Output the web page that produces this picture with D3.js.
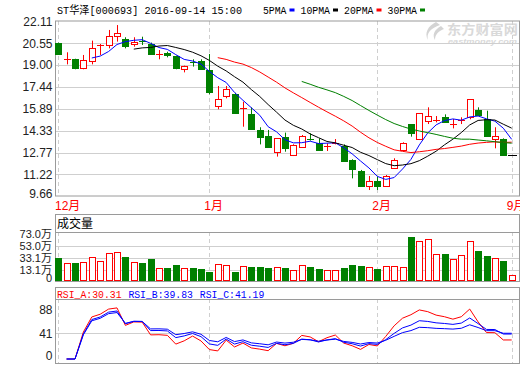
<!DOCTYPE html>
<html><head><meta charset="utf-8">
<script src="https://cdn.jsdelivr.net/npm/d3@7"></script>
<style>body{margin:0;background:#fff}svg{display:block}</style>
</head><body><svg id="c" width="520" height="365"></svg>
<script>
// ---------------- data ----------------
const title = "ST华泽[000693] 2016-09-14 15:00";
const maNames = ["5PMA", "10PMA", "20PMA", "30PMA"];
const maPeriods = [5, 10, 20, 30];
const monthLabels = ["12月", "1月", "2月", "9月"];
const monthStartIdx = [0, 18, 38, 54];
const priceTicks = [22.11, 20.55, 19.00, 17.44, 15.89, 14.33, 12.77, 11.22, 9.66];
const volTicks = [73.0, 53.0, 33.1, 13.1, 0];
const volTickLabels = ["73.0万", "53.0万", "33.1万", "13.1万", "0"];
const rsiTicks = [88, 41, 0];
const rsiNames = ["RSI_A", "RSI_B", "RSI_C"];
const rsiLast = ["30.31", "39.83", "41.19"];
const rsiPeriods = [6, 12, 24];

const open  = [20.55,19.42,19.43,18.77,19.31,20.41,20.43,21.09,20.86,20.48,20.68,20.50,19.75,19.84,19.67,18.70,19.20,19.31,18.65,16.11,
               16.80,16.94,15.91,15.49,14.38,13.97,12.78,13.85,12.59,13.19,13.74,13.43,13.23,13.42,13.24,12.24,11.45,10.41,10.74,10.41,
               11.69,12.95,14.80,13.71,15.02,15.08,15.33,14.77,15.08,15.33,15.80,15.14,13.73,13.73,12.59];
const high  = [20.60,19.91,19.45,19.72,20.74,20.50,21.50,21.85,20.98,20.98,21.02,20.60,20.07,19.95,19.67,18.96,19.41,19.41,19.79,17.51,
               17.51,17.03,16.39,15.99,14.57,14.38,13.78,14.19,13.36,14.02,14.14,13.78,13.43,13.73,13.35,12.29,11.53,11.10,11.05,11.17,
               12.36,13.50,14.80,15.56,15.99,15.37,15.49,15.16,15.28,16.56,15.99,15.75,14.57,13.78,12.59];
const low   = [19.72,19.05,18.70,18.70,19.05,19.72,20.19,20.67,20.19,20.31,20.43,19.76,19.41,19.55,18.70,18.48,18.89,18.72,16.92,15.85,
               16.63,15.61,14.61,14.38,13.35,13.19,12.48,12.83,12.52,13.19,13.62,12.95,12.88,13.35,12.12,10.93,10.41,10.10,10.10,10.34,
               11.64,12.95,13.90,13.66,14.80,14.92,14.95,14.49,14.80,15.14,15.44,13.97,13.07,12.55,12.59];
const close = [19.76,19.44,18.77,19.36,20.19,20.44,21.07,21.26,20.38,20.67,20.66,19.76,19.77,19.72,18.81,18.96,19.18,18.72,17.06,16.58,
               17.27,15.61,15.93,14.42,13.90,13.19,13.78,13.12,13.31,13.95,13.73,12.95,13.24,13.43,12.19,11.57,10.41,10.77,10.41,11.12,
               12.23,13.45,14.19,15.56,15.40,15.10,14.97,14.79,15.10,16.56,15.44,13.97,13.95,12.59,12.59];
const volume = [33.4,24.2,24.2,25.8,35.1,28.0,40.7,43.3,34.1,25.8,24.2,31.3,16.0,16.5,21.4,16.0,17.0,14.8,9.4,22.6,
                21.4,9.4,20.2,18.1,18.1,16.0,17.6,16.0,12.7,20.9,18.1,14.8,12.7,12.7,16.0,21.4,19.8,17.6,14.3,20.2,
                19.3,17.6,67.0,60.4,64.2,39.0,39.5,30.8,37.4,60.4,44.4,36.2,32.4,28.0,4.9];

// ---------------- styles ----------------
const RED = "#ff0000", GREEN = "#008000", BLUE = "#0000ff";
const maColors = [BLUE, "#000000", RED, GREEN];
const rsiColors = [RED, BLUE, BLUE];
const FRAME = "#9a9a9a", GRID = "#cfcfcf";
const MONO = "'Liberation Mono','Noto Sans CJK SC',monospace";
const SANS = "'Liberation Sans','Noto Sans CJK SC',sans-serif";

const svg = d3.select("#c");
const L = 55, R = 519;
const main = {top: 21, bottom: 196};
const vol = {top: 214, head: 232, bottom: 281};
const rsi = {top: 287, head: 299, bottom: 363};

const n = close.length;
const x = d3.scaleLinear().domain([0, n - 1]).range([58.2, 511.7]);
const yP = d3.scaleLinear().domain([9.66, 22.11]).range([196.2, 21.4]);
const yV = d3.scaleLinear().domain([0, 73]).range([278, 233.7]);
const yR = d3.scaleLinear().domain([0, 88]).range([359, 303.8]);
const px = v => Math.round(v) + 0.5;

// ---------------- watermark ----------------
const wm = svg.append("g").attr("fill", "#d9d9d9");
wm.append("path").attr("d", "M436,22 C428,26 424,33 428,40 C426,33 431,28 440,25 Z M441,26 C434,30 432,35 435,40 C435,34 439,31 444,29 Z")
  .attr("fill", "#d4d4d4");
wm.append("text").attr("x", 447).attr("y", 34).attr("font-size", 13).attr("font-weight", "bold")
  .attr("font-family", "'Noto Sans CJK SC',sans-serif").attr("textLength", 71).attr("lengthAdjust", "spacingAndGlyphs").text("东方财富网");
wm.append("text").attr("x", 448).attr("y", 43.5).attr("font-size", 7.5).attr("font-weight", "bold").attr("font-style", "italic")
  .attr("font-family", SANS).attr("textLength", 69).attr("lengthAdjust", "spacingAndGlyphs").text("eastmoney.com");

// ---------------- title & legend ----------------
svg.append("text").attr("x", 57).attr("y", 14).attr("font-size", 11).attr("font-family", MONO)
  .attr("textLength", 185).attr("lengthAdjust", "spacingAndGlyphs").text(title);
let lx = 263;
maNames.forEach((nm, i) => {
  const w = nm.length * 6;
  svg.append("text").attr("x", lx).attr("y", 14).attr("font-size", 11).attr("font-family", MONO)
    .attr("textLength", w - 0.5).attr("lengthAdjust", "spacingAndGlyphs").text(nm);
  svg.append("rect").attr("x", lx + w + 2.5).attr("y", 8.5).attr("width", 5).attr("height", 3).attr("fill", maColors[i]);
  lx += w + 13.5;
});

// ---------------- panels: grid + frames ----------------
function vDashes(y0, y1) {
  svg.append("g").selectAll("line").data(monthStartIdx).join("line")
    .attr("x1", d => px(x(d))).attr("x2", d => px(x(d))).attr("y1", y0).attr("y2", y1)
    .attr("stroke", GRID).attr("stroke-dasharray", "4,3");
}
function hGrid(vals, scale) {
  svg.append("g").selectAll("line").data(vals).join("line")
    .attr("x1", L).attr("x2", R).attr("y1", d => px(scale(d))).attr("y2", d => px(scale(d)))
    .attr("stroke", GRID);
}
hGrid(priceTicks.slice(1, -1), yP);
vDashes(main.top, main.bottom);
hGrid(volTicks.slice(1, -1), yV);
vDashes(vol.head, vol.bottom);
hGrid([rsiTicks[1]], yR);
vDashes(rsi.head, rsi.bottom);

function frame(t, b, head) {
  svg.append("rect").attr("x", L + 0.5).attr("y", t + 0.5).attr("width", R - L).attr("height", b - t)
    .attr("fill", "none").attr("stroke", FRAME);
  if (head) svg.append("line").attr("x1", L).attr("x2", R).attr("y1", head + 0.5).attr("y2", head + 0.5).attr("stroke", FRAME);
}
frame(main.top - 0.5, main.bottom - 0.5);
frame(vol.top, vol.bottom, vol.head);
frame(rsi.top, rsi.bottom, rsi.head);

// ---------------- axis labels ----------------
const clamp = (v, a, b) => Math.max(a, Math.min(b, v));
svg.append("g").selectAll("text").data(priceTicks).join("text")
  .attr("x", 52.5).attr("y", d => clamp(yP(d), 21, 194)).attr("dy", "0.36em").attr("text-anchor", "end")
  .attr("font-size", 12).attr("font-family", SANS).attr("fill", "#222").text(d => d.toFixed(2));
svg.append("g").selectAll("text").data(volTicks).join("text")
  .attr("x", 52).attr("y", d => clamp(yV(d), 231.5, 281)).attr("dy", "0.36em").attr("text-anchor", "end")
  .attr("font-size", 11).attr("font-family", SANS).attr("fill", "#222").text((d, i) => volTickLabels[i]);
svg.append("g").selectAll("text").data(rsiTicks).join("text")
  .attr("x", 52.5).attr("y", d => clamp(yR(d), 310, 355.5)).attr("dy", "0.36em").attr("text-anchor", "end")
  .attr("font-size", 12).attr("font-family", SANS).attr("fill", "#222").text(d => d);
svg.append("g").selectAll("text").data(monthStartIdx).join("text")
  .attr("x", d => Math.max(L, x(d) - 5)).attr("y", 210).attr("font-size", 12).attr("font-family", SANS)
  .attr("fill", RED).text((d, i) => monthLabels[i]);

svg.append("text").attr("x", 57).attr("y", 227.5).attr("font-size", 12)
  .attr("font-family", "'Noto Sans CJK SC',sans-serif").text("成交量");
rsiNames.forEach((nm, i) => {
  svg.append("text").attr("x", 57 + i * 71.4).attr("y", 297.5).attr("font-size", 11).attr("font-family", MONO)
    .attr("fill", rsiColors[i]).attr("textLength", 64.5).attr("lengthAdjust", "spacingAndGlyphs")
    .text(nm + ":" + rsiLast[i]);
});

// ---------------- candles ----------------
const cg = svg.append("g");
d3.range(n).forEach(i => {
  const cx = Math.round(x(i));
  const o = open[i], c = close[i], h = high[i], l = low[i];
  if (h === l) {
    cg.append("line").attr("x1", cx - 4).attr("x2", cx + 5).attr("y1", px(yP(c))).attr("y2", px(yP(c)))
      .attr("stroke", "#000");
    return;
  }
  const up = c >= o;
  const col = up ? RED : GREEN;
  const yt = Math.round(yP(Math.max(o, c))), yb = Math.round(yP(Math.min(o, c)));
  if (yb - yt < 1.5) {
    cg.append("line").attr("x1", cx + 0.5).attr("x2", cx + 0.5).attr("y1", yP(h)).attr("y2", yP(l)).attr("stroke", col);
    cg.append("line").attr("x1", cx - 3).attr("x2", cx + 4).attr("y1", yt + 0.5).attr("y2", yt + 0.5).attr("stroke", col);
  } else if (up) {
    cg.append("line").attr("x1", cx + 0.5).attr("x2", cx + 0.5).attr("y1", yP(h)).attr("y2", yt).attr("stroke", col);
    cg.append("line").attr("x1", cx + 0.5).attr("x2", cx + 0.5).attr("y1", yb + 1).attr("y2", yP(l)).attr("stroke", col);
    cg.append("rect").attr("x", cx - 2.5).attr("y", yt + 0.5).attr("width", 6).attr("height", yb - yt)
      .attr("fill", "#fff").attr("stroke", col);
  } else {
    cg.append("line").attr("x1", cx + 0.5).attr("x2", cx + 0.5).attr("y1", yP(h)).attr("y2", yP(l)).attr("stroke", col);
    cg.append("rect").attr("x", cx - 3).attr("y", yt).attr("width", 7).attr("height", yb - yt + 1).attr("fill", col);
  }
});

// ---------------- moving averages ----------------
maPeriods.forEach((p, k) => {
  const pts = d3.range(p - 1, n).map(i => [i, d3.mean(close.slice(i - p + 1, i + 1))]);
  svg.append("path").datum(pts).attr("fill", "none").attr("stroke", maColors[k]).attr("stroke-width", 1)
    .attr("d", d3.line().x(d => x(d[0])).y(d => yP(d[1])));
});

// ---------------- volume ----------------
const vg = svg.append("g");
d3.range(n).forEach(i => {
  const cx = Math.round(x(i));
  const up = close[i] >= open[i];
  const yt = Math.round(yV(volume[i]));
  if (up) {
    vg.append("rect").attr("x", cx - 2.5).attr("y", yt + 0.5).attr("width", 6).attr("height", vol.bottom - 1 - yt)
      .attr("fill", "#fff").attr("stroke", RED);
  } else {
    vg.append("rect").attr("x", cx - 3).attr("y", yt).attr("width", 7).attr("height", vol.bottom - yt).attr("fill", GREEN);
  }
});

// ---------------- RSI ----------------
rsiPeriods.forEach((N, k) => {
  let u = 0, a = 0;
  const pts = [];
  for (let i = 1; i < n; i++) {
    const d = close[i] - close[i - 1];
    u = (Math.max(d, 0) + (N - 1) * u) / N;
    a = (Math.abs(d) + (N - 1) * a) / N;
    pts.push([i, a === 0 ? 0 : u / a * 100]);
  }
  svg.append("path").datum(pts).attr("fill", "none").attr("stroke", rsiColors[k]).attr("stroke-width", 1)
    .attr("d", d3.line().x(d => x(d[0])).y(d => yR(d[1])));
});
</script></body></html>
